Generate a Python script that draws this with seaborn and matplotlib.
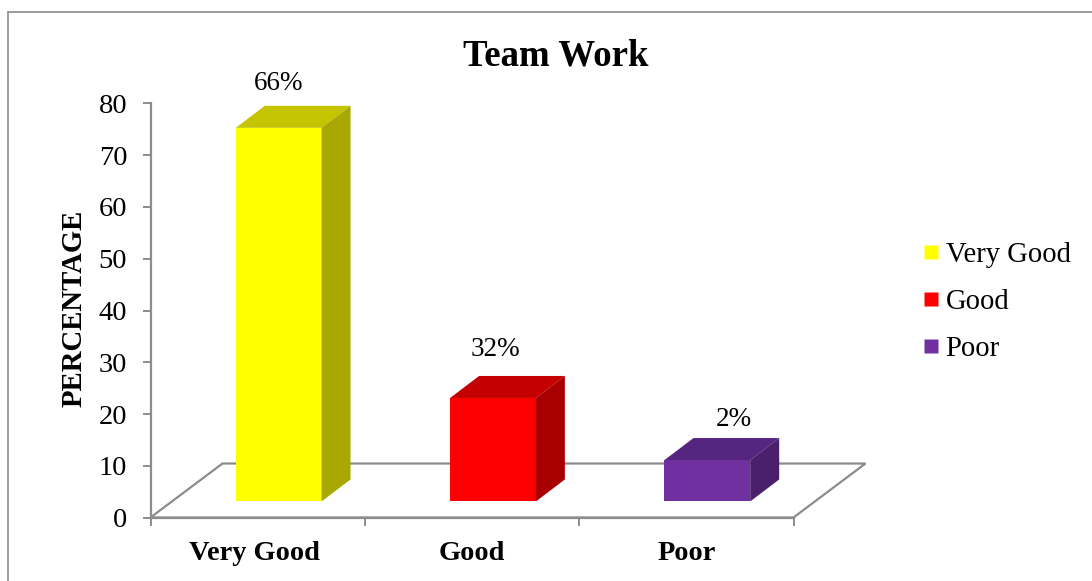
import matplotlib
matplotlib.use('Agg')
import matplotlib.pyplot as plt
import seaborn as sns
import pandas as pd
from matplotlib.lines import Line2D
from matplotlib.patches import Polygon

categories = ['Very Good', 'Good', 'Poor']
heights = [72.2, 20.0, 8.0]
floor_level = 3.1
labels = ['66%', '32%', '2%']
yticks = [0, 10, 20, 30, 40, 50, 60, 70, 80]
front_colors = ['#FFFF00', '#FF0000', '#7030A0']
top_colors = ['#C4C400', '#C40000', '#562580']
side_colors = ['#A8A800', '#A80000', '#4A1F6C']
grid_color = '#8C8C8C'
# where each value label sits relative to its bar top, pixels
label_offsets = [(0, 44), (2, 48), (26, 41)]

W, H = 1092, 581
sns.set_theme(style='white')
plt.rcParams['font.family'] = ['Liberation Serif', 'DejaVu Serif']
plt.rcParams['text.color'] = 'black'
plt.rcParams['xtick.color'] = 'black'
plt.rcParams['ytick.color'] = 'black'
plt.rcParams['axes.labelcolor'] = 'black'

fig = plt.figure(figsize=(W / 100, H / 100), dpi=100)
ax = fig.add_axes([150.5 / W, 1 - 517.5 / H, 643 / W, 414 / H])

df = pd.DataFrame({'category': categories, 'height': heights})
sns.barplot(data=df, x='category', y='height', hue='category', palette=front_colors,
            order=categories, hue_order=categories, width=0.4, dodge=False,
            bottom=floor_level, legend=False, saturation=1, ax=ax, zorder=3)
ax.set_xlim(-0.5, 2.5)
ax.set_ylim(0, 80)

# depth of the fake 3d, in data units
px_x = 3 / 643
px_y = 80 / 414
dx = 29 * px_x
dy = 22 * px_y
shift = 21 * px_x

# floor behind the bars
floor_dx = 72 * px_x
floor_dy = 54 * px_y
floor = Polygon([(-0.5, 0), (-0.5 + floor_dx, floor_dy), (2.5 + floor_dx, floor_dy), (2.5, 0)],
                closed=True, fill=False, edgecolor=grid_color, linewidth=1.6,
                clip_on=False, zorder=1)
ax.add_patch(floor)

for i, bar in enumerate(ax.patches[:len(categories)]):
    bar.set_x(bar.get_x() + shift)
    bar.set_edgecolor('none')
    x0 = bar.get_x()
    x1 = x0 + bar.get_width()
    y0 = bar.get_y()
    y1 = y0 + bar.get_height()
    ax.add_patch(Polygon([(x0, y1), (x0 + dx, y1 + dy), (x1 + dx, y1 + dy), (x1, y1)],
                         closed=True, facecolor=top_colors[i], edgecolor='none',
                         clip_on=False, zorder=3))
    ax.add_patch(Polygon([(x1, y0), (x1 + dx, y0 + dy), (x1 + dx, y1 + dy), (x1, y1)],
                         closed=True, facecolor=side_colors[i], edgecolor='none',
                         clip_on=False, zorder=3))
    ax.annotate(labels[i], ((x0 + x1) / 2, y1), xytext=label_offsets[i], textcoords='offset pixels',
                ha='center', va='center', fontsize=19.5, color='black',
                annotation_clip=False)

for side in ['top', 'right']:
    ax.spines[side].set_visible(False)
for side in ['left', 'bottom']:
    ax.spines[side].set_color(grid_color)
    ax.spines[side].set_linewidth(1.6)

ax.set_yticks(yticks)
ax.set_xticks([-0.5, 0.5, 1.5, 2.5])
ax.set_xticklabels([])
ax.set_xticks([0 - 3.5 * px_x, 1, 2], minor=True)
ax.set_xticklabels(categories, minor=True, fontweight='bold', fontsize=20.4)
ax.tick_params(axis='x', which='major', direction='out', bottom=True, length=5.8,
               width=1.4, color=grid_color)
ax.tick_params(axis='x', which='minor', bottom=False, length=0, pad=17)
ax.tick_params(axis='y', direction='out', left=True, length=5.8, width=1.4,
               color=grid_color, labelsize=20.5, pad=11)
ax.set_xlabel('')
ax.set_ylabel('PERCENTAGE', fontweight='bold', fontsize=20.7)
ax.yaxis.set_label_coords(-63 / 643, 209.5 / 414)

fig.text(556 / W, 1 - 56 / H, 'Team Work', ha='center', va='center',
         fontsize=26.6, fontweight='bold')

# legend squares
handles = [Line2D([], [], linestyle='none', marker='s', markersize=10,
                  markerfacecolor=c, markeredgecolor='none') for c in front_colors]
fig.legend(handles, categories, loc='center left', bbox_to_anchor=(917 / W, 1 - 302 / H),
           frameon=False, fontsize=20.6, labelspacing=0.73, handlelength=1.0,
           handletextpad=0.0, borderpad=0, borderaxespad=0)

# chart area border, left and top only
for xs, ys in [([7.5, 7.5], [0, H - 12]), ([7.5, W], [H - 12, H - 12])]:
    fig.add_artist(Line2D([x / W for x in xs], [y / H for y in ys],
                          color=grid_color, linewidth=1.2))

fig.savefig('out.png', dpi=100)
